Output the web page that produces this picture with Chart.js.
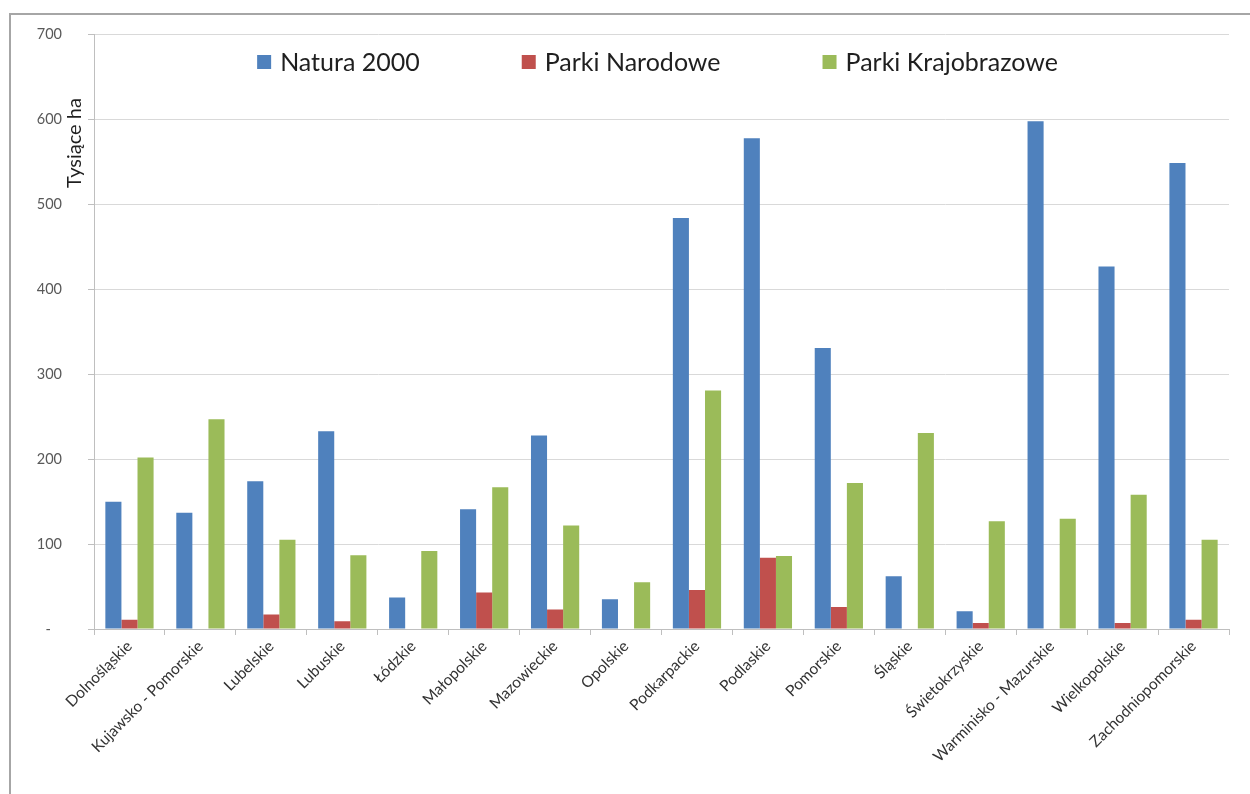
<!DOCTYPE html>
<html>
<head>
<meta charset="utf-8">
<script src="https://cdn.jsdelivr.net/npm/chart.js@4.4.1/dist/chart.umd.min.js"></script>
<style>
  body { margin: 0; background: #fff; }
  #frame { position: absolute; left: 9px; top: 13px; width: 1300px; height: 900px; border: 2px solid #a6a6a6; box-sizing: border-box; }
  #wrap { position: absolute; left: 0; top: 0; width: 1250px; height: 794px; }
</style>
</head>
<body>
<div id="frame"></div>
<div id="wrap"><canvas id="myChart"></canvas></div>
<script>
// województwa
var regions = [
    "Dolnośląskie", "Kujawsko - Pomorskie", "Lubelskie", "Lubuskie", "Łódzkie",
    "Małopolskie", "Mazowieckie", "Opolskie", "Podkarpackie", "Podlaskie",
    "Pomorskie", "Śląskie", "Świetokrzyskie", "Warminisko - Mazurskie",
    "Wielkopolskie", "Zachodniopomorskie"
];

// tysiące ha
var natura2000 = [150, 137, 174, 233, 37, 141, 228, 35, 484, 578, 331, 62, 21, 598, 427, 549];
var parkiNarodowe = [11, 0, 17, 9, 0, 43, 23, 0, 46, 84, 26, 0, 7, 0, 7, 11];
var parkiKrajobrazowe = [202, 247, 105, 87, 92, 167, 122, 55, 281, 86, 172, 231, 127, 130, 158, 105];

var yTicks = [0, 100, 200, 300, 400, 500, 600, 700];
var yTitle = "Tysiące ha";

Chart.defaults.font.family = "Lato";

// legenda wewnątrz obszaru wykresu
const legendInside = {
    id: "legendInside",
    afterDraw: function (chart) {
        const ctx = chart.ctx;
        const area = chart.chartArea;
        const box = 14, gapText = 9, gapItem = 102;
        ctx.save();
        ctx.font = "25px Lato";
        ctx.textBaseline = "middle";
        let total = 0;
        chart.data.datasets.forEach((ds, i) => {
            total += box + gapText + ctx.measureText(ds.label).width;
            if (i > 0) total += gapItem;
        });
        let x = (area.left + area.right) / 2 - total / 2 - 4;
        const y = 62;
        chart.data.datasets.forEach(ds => {
            ctx.fillStyle = ds.backgroundColor;
            ctx.fillRect(x, y - box / 2, box, box);
            x += box + gapText;
            ctx.fillStyle = "#1f1f1f";
            ctx.fillText(ds.label, x, y + 1);
            x += ctx.measureText(ds.label).width + gapItem;
        });

        // tytuł osi Y
        ctx.translate(75, 143);
        ctx.rotate(-Math.PI / 2);
        ctx.font = "20px Lato";
        ctx.textAlign = "center";
        ctx.fillStyle = "#1f1f1f";
        ctx.fillText(yTitle, 0, 0);
        ctx.restore();
    }
};

const data = {
    labels: regions,
    datasets: [
        { label: "Natura 2000", backgroundColor: "#4f81bd", data: natura2000 },
        { label: "Parki Narodowe", backgroundColor: "#c0504d", data: parkiNarodowe },
        { label: "Parki Krajobrazowe", backgroundColor: "#9bbb59", data: parkiKrajobrazowe }
    ]
};

const config = {
    type: "bar",
    data: data,
    options: {
        responsive: true,
        maintainAspectRatio: false,
        animation: false,
        datasets: {
            bar: { categoryPercentage: 0.68, barPercentage: 1.0, borderWidth: 0 }
        },
        layout: { padding: { left: 0, top: 33, right: 21, bottom: 0 } },
        plugins: {
            legend: { display: false },
            tooltip: { enabled: false }
        },
        scales: {
            x: {
                grid: { drawOnChartArea: false, color: "#bfbfbf", tickLength: 6, offset: true },
                border: { color: "#bfbfbf" },
                ticks: {
                    color: "#333333",
                    font: { size: 15.5 },
                    maxRotation: 45,
                    minRotation: 45,
                    autoSkip: false,
                    padding: 2
                },
                afterFit: function (scale) { scale.height = 165; }
            },
            y: {
                min: 0,
                max: 700,
                afterBuildTicks: function (scale) {
                    scale.ticks = yTicks.map(v => ({ value: v }));
                },
                grid: { color: "#d9d9d9", tickColor: "#bfbfbf", tickLength: 6 },
                border: { color: "#bfbfbf" },
                ticks: {
                    color: "#595959",
                    font: { size: 14.5 },
                    padding: 26,
                    callback: function (value) {
                        return value === 0 ? "-   " : value;
                    }
                },
                afterFit: function (scale) { scale.width = 94; }
            }
        }
    },
    plugins: [legendInside]
};

const myChart = new Chart(document.getElementById("myChart"), config);
</script>
</body>
</html>
